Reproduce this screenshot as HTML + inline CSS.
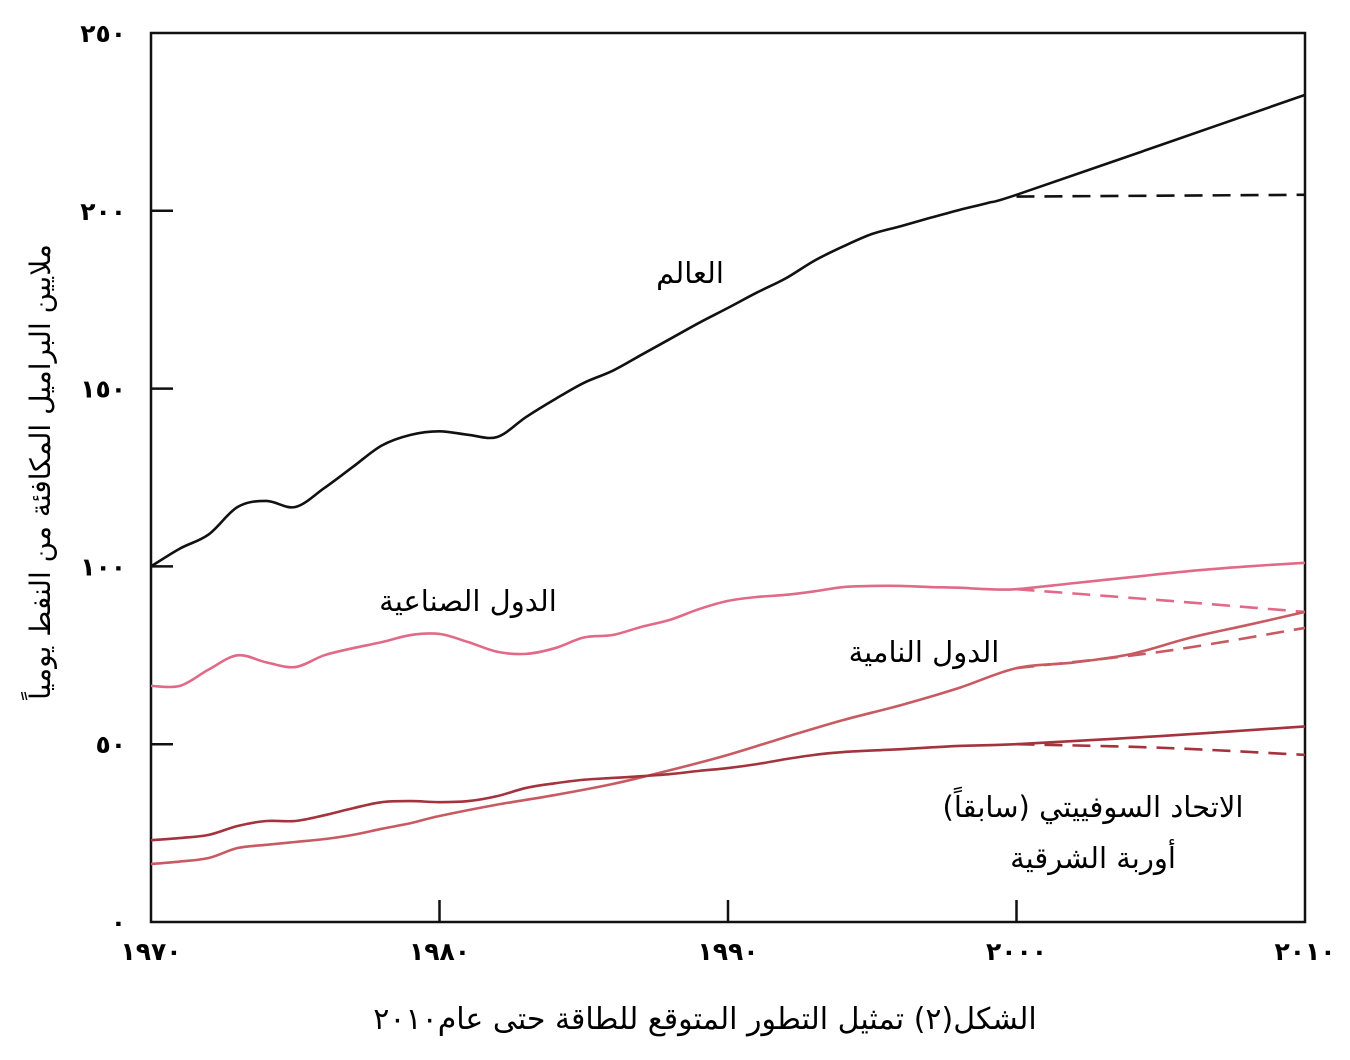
<!DOCTYPE html>
<html><head><meta charset="utf-8">
<style>
html,body{margin:0;padding:0;background:#fff;}
svg{display:block;}
text{font-family:"DejaVu Sans","Liberation Sans",sans-serif;}
</style></head>
<body>
<svg id="chart" width="1350" height="1060" viewBox="0 0 1350 1060" xmlns="http://www.w3.org/2000/svg">
<rect x="151" y="33" width="1154" height="889" fill="none" stroke="#111" stroke-width="2.5"/>
<g id="axes"></g>
<g id="series"></g>
<text x="690" y="283" font-size="29" text-anchor="middle">العالم</text>
<text x="468" y="611" font-size="29" text-anchor="middle">الدول الصناعية</text>
<text x="924" y="662" font-size="29" text-anchor="middle">الدول النامية</text>
<text x="1093" y="817" font-size="29" text-anchor="middle">الاتحاد السوفييتي (سابقاً)</text>
<text x="1093" y="868" font-size="29" text-anchor="middle">أوربة الشرقية</text>
<text transform="translate(50,472) rotate(-90)" font-size="28" text-anchor="middle">ملايين البراميل المكافئة من النفط يومياً</text>
<text x="705" y="1029" font-size="30" text-anchor="middle">الشكل(٢) تمثيل التطور المتوقع للطاقة حتى عام٢٠١٠</text>
</svg>
<script>
const xYears=[1970,1980,1990,2000,2010];
const xTickLabels=["١٩٧٠","١٩٨٠","١٩٩٠","٢٠٠٠","٢٠١٠"];
const yTicks=[0,50,100,150,200,250];
const yTickLabels=["٠","٥٠","١٠٠","١٥٠","٢٠٠","٢٥٠"];

const worldYears=[1970,1971,1972,1973,1974,1975,1976,1977,1978,1979,1980,1981,1982,1983,1984,1985,1986,1987,1988,1989,1990,1991,1992,1993,1994,1995,1996,1997,1998,1999,2000,2005,2010];
const worldVals=[100,105,109,116.7,118.4,116.7,122,128,134,137,138,137,136.4,142,147,151.6,155,159.5,164,168.5,172.7,177,181,186,190,193.5,195.7,198,200.2,202.2,204.5,218.5,232.6];
const worldDashYears=[2000,2010];
const worldDashVals=[204,204.5];

const indYears=[1970,1971,1972,1973,1974,1975,1976,1977,1978,1979,1980,1981,1982,1983,1984,1985,1986,1987,1988,1989,1990,1991,1992,1993,1994,1995,1996,1997,1998,1999,2000,2002,2004,2006,2008,2010];
const indVals=[66.4,66.4,71,75,73,71.7,75,77,78.7,80.7,81,78.7,76,75.4,77,80,80.7,83,85,88,90.3,91.4,92,93,94.2,94.5,94.5,94.2,94,93.6,93.6,95.3,97,98.7,100,101];
const indDashYears=[2000,2005,2010];
const indDashVals=[93.6,90.5,87.2];

const devYears=[1970,1971,1972,1973,1974,1975,1976,1977,1978,1979,1980,1982,1984,1986,1988,1990,1992,1994,1996,1998,2000,2002,2004,2006,2008,2010];
const devVals=[16.3,17,18,20.8,21.7,22.5,23.3,24.5,26.2,27.8,29.8,33,35.7,38.8,42.7,47,52,56.8,61,65.8,71.4,73,75.4,79.9,83.5,87.2];
const devDashYears=[2000,2005,2010];
const devDashVals=[71.4,76,82.7];

const fsuYears=[1970,1971,1972,1973,1974,1975,1976,1977,1978,1979,1980,1981,1982,1983,1984,1985,1986,1987,1988,1989,1990,1991,1992,1993,1994,1996,1998,2000,2005,2010];
const fsuVals=[23,23.6,24.5,27,28.4,28.4,30,32,33.7,34,33.7,34,35.4,37.7,39,40,40.5,41,41.6,42.5,43.3,44.4,45.8,47,47.8,48.6,49.5,50,52.3,55];
const fsuDashYears=[2000,2005,2010];
const fsuDashVals=[50,49,47];

const X=y=>151+(y-1970)*(1154/40);
const Y=v=>922-v*(889/250);
const NS="http://www.w3.org/2000/svg";
function mk(tag,attrs,parent){const e=document.createElementNS(NS,tag);for(const k in attrs)e.setAttribute(k,attrs[k]);parent.appendChild(e);return e;}
function smooth(xs,vs){
  const p=xs.map((x,i)=>[X(x),Y(vs[i])]);
  let d="M"+p[0][0]+","+p[0][1];
  for(let i=0;i<p.length-1;i++){
    const p0=p[i-1]||p[i],p1=p[i],p2=p[i+1],p3=p[i+2]||p2;
    const c1=[p1[0]+(p2[0]-p0[0])/6,p1[1]+(p2[1]-p0[1])/6];
    const c2=[p2[0]-(p3[0]-p1[0])/6,p2[1]-(p3[1]-p1[1])/6];
    d+=` C${c1[0]},${c1[1]} ${c2[0]},${c2[1]} ${p2[0]},${p2[1]}`;
  }
  return d;
}
const axes=document.getElementById('axes');
const ser=document.getElementById('series');
xYears.forEach((yr,i)=>{
  if(i>0&&i<xYears.length-1){
    const t=mk('line',{x1:X(yr),x2:X(yr),y1:922,y2:900,stroke:'#111','stroke-width':2.5},axes);
    
    
  }
  const l=mk('text',{x:X(yr),y:960,'font-size':25,'font-weight':'bold','text-anchor':'middle','letter-spacing':5},axes);
  l.textContent=xTickLabels[i];
  
  
});
yTicks.forEach((v,i)=>{
  if(i>0&&i<yTicks.length-1){
    const t=mk('line',{x1:151,x2:173,y1:Y(v),y2:Y(v),stroke:'#111','stroke-width':2.5},axes);
    
    
  }
  const l=mk('text',{x:126,y:Y(v)+9,'font-size':25,'font-weight':'bold','text-anchor':'end','letter-spacing':5},axes);
  l.textContent=yTickLabels[i];
  
  
});
function line(xs,vs,color,dash,name){
  const a={d:smooth(xs,vs),fill:'none',stroke:color,'stroke-width':2.6};
  if(dash)a['stroke-dasharray']='18,10';
  const e=mk('path',a,ser);
  
  
}
line(worldYears,worldVals,'#111',false,'world-line');
line(worldDashYears,worldDashVals,'#111',true,'world-projection');
line(indYears,indVals,'#e06a88',false,'industrial-line');
line(indDashYears,indDashVals,'#e06a88',true,'industrial-projection');
line(devYears,devVals,'#c85a62',false,'developing-line');
line(devDashYears,devDashVals,'#c85a62',true,'developing-projection');
line(fsuYears,fsuVals,'#a3333d',false,'fsu-line');
line(fsuDashYears,fsuDashVals,'#a3333d',true,'fsu-projection');
</script>
</body></html>
